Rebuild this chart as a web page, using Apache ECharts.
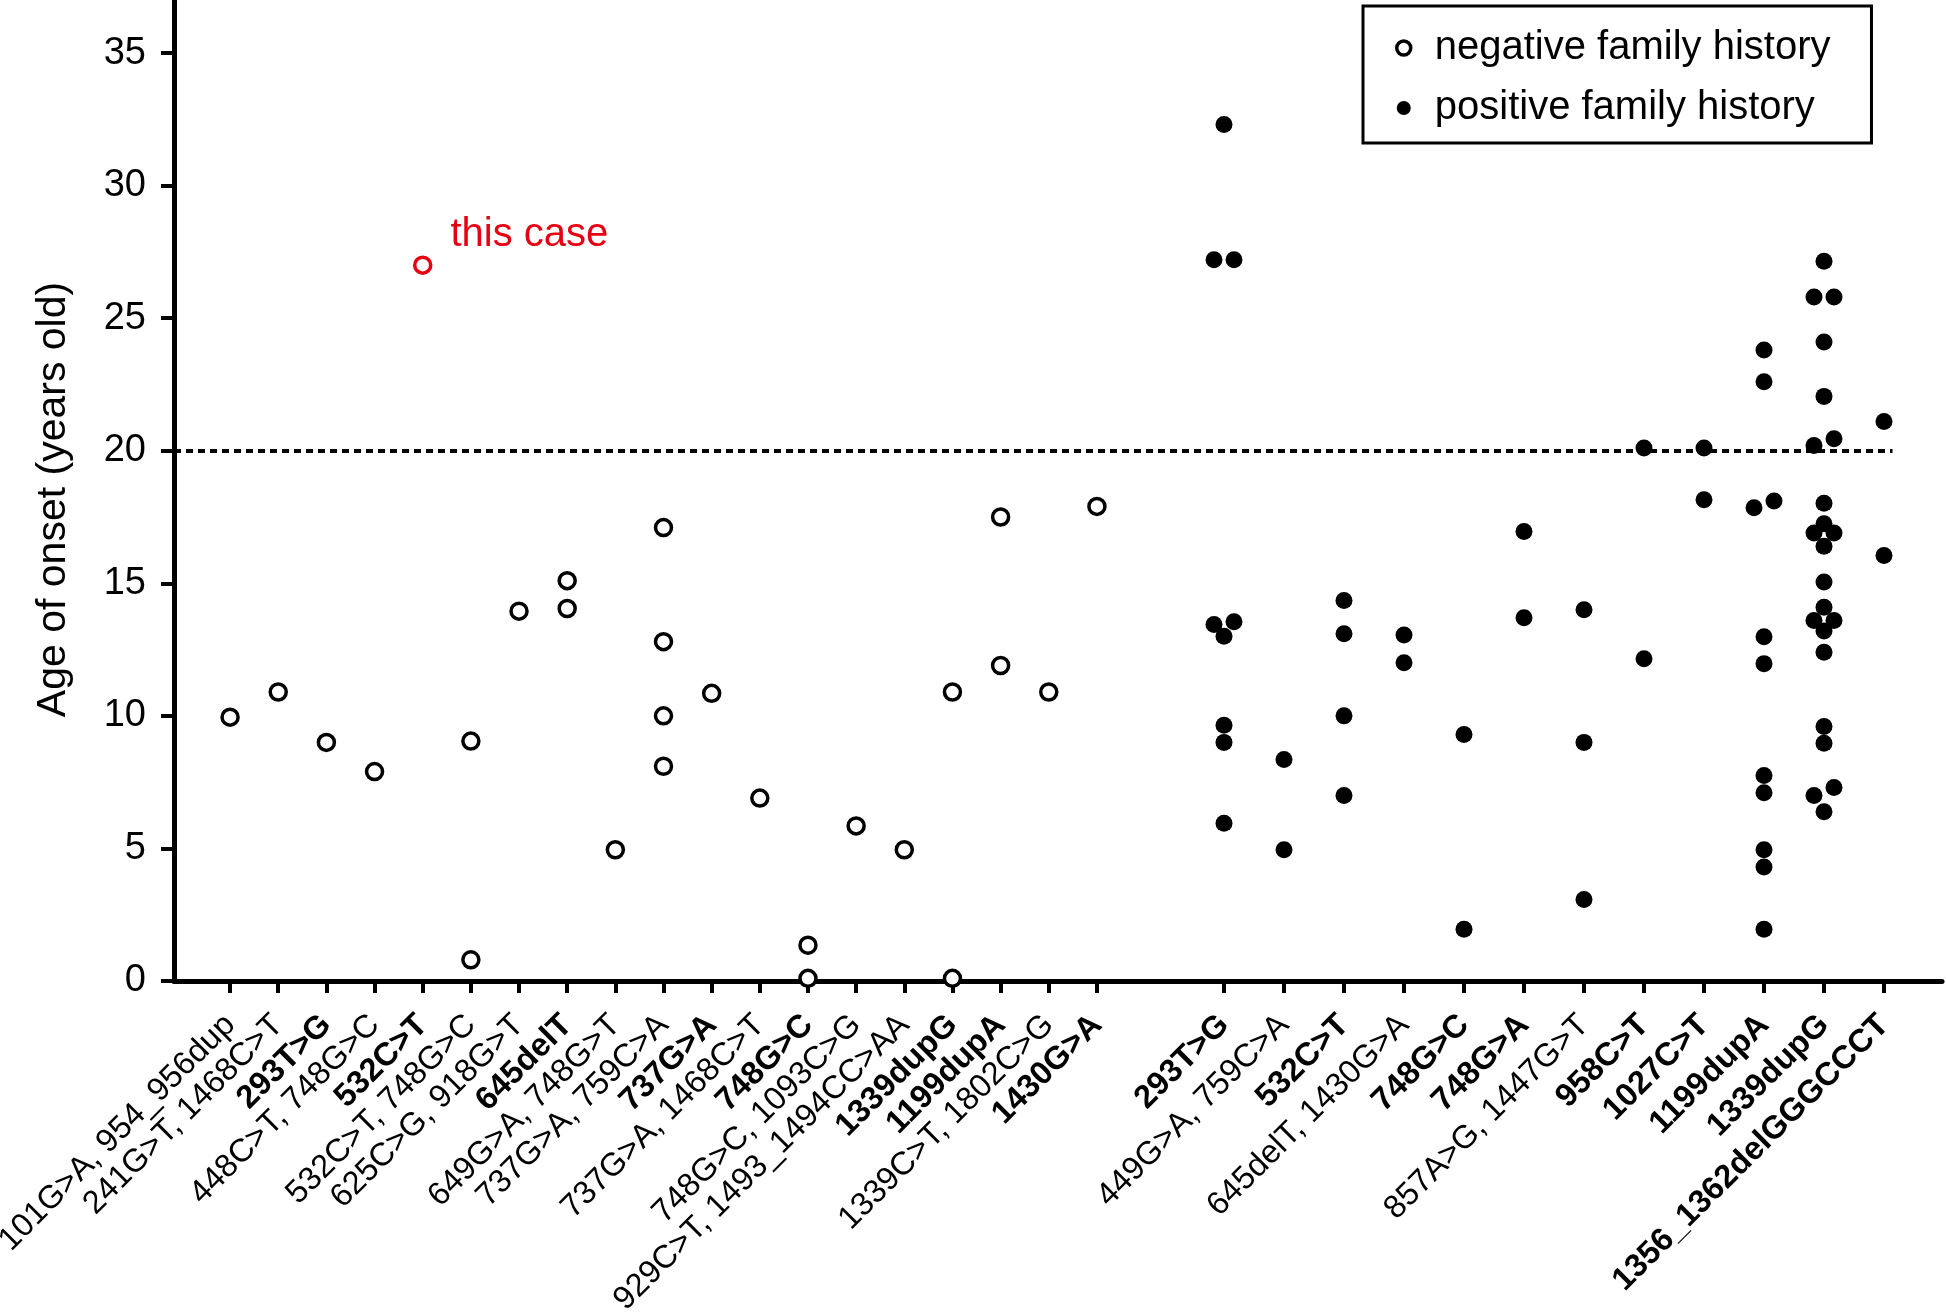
<!DOCTYPE html>
<html><head><meta charset="utf-8">
<script src="https://cdn.jsdelivr.net/npm/echarts@6/dist/echarts.min.js"></script>
<style>html,body{margin:0;padding:0;background:#fff}#c{width:1946px;height:1313px}</style>
</head><body><div id="c"></div>
<script>
// ---------------- data ----------------
const negCategories = [
  '101G>A, 954_956dup', '241G>T, 1468C>T', '293T>G', '448C>T, 748G>C', '532C>T',
  '532C>T, 748G>C', '625C>G, 918G>T', '645delT', '649G>A, 748G>T', '737G>A, 759C>A',
  '737G>A', '737G>A, 1468C>T', '748G>C', '748G>C, 1093C>G', '929C>T, 1493_1494CC>AA',
  '1339dupG', '1199dupA', '1339C>T, 1802C>G', '1430G>A'
];
const negAges = [
  [9.95], [10.9], [9.0], [7.9], [27],
  [9.05, 0.8], [13.95], [15.1, 14.05], [4.95], [17.1, 12.8, 10.0, 8.1],
  [10.85], [6.9], [1.35, 0.1], [5.85], [4.95],
  [10.9, 0.1], [17.5, 11.9], [10.9], [17.9]
];
const thisCaseCategory = '532C>T';
const thisCaseAge = 27;
const thisCaseText = 'this case';

const posCategories = [
  '293T>G', '449G>A, 759C>A', '532C>T', '645delT, 1430G>A', '748G>C', '748G>A',
  '857A>G, 1447G>T', '958C>T', '1027C>T', '1199dupA', '1339dupG', '1356_1362delGGGCCCT'
];
const posAges = [
  [32.3, 27.2, 27.2, 13.45, 13.55, 13.0, 9.65, 9.0, 5.95],
  [8.35, 4.95],
  [14.35, 13.1, 10.0, 7.0],
  [13.05, 12.0],
  [9.3, 1.95],
  [16.95, 13.7],
  [14.0, 9.0, 3.07],
  [20.1, 12.15],
  [20.1, 18.15],
  [23.8, 22.6, 18.1, 17.85, 12.98, 11.97, 7.75, 7.1, 4.95, 4.3, 1.95],
  [27.15, 25.8, 25.8, 24.1, 22.05, 20.45, 20.2, 18.02, 17.25, 16.9, 16.9, 16.4,
   15.05, 14.1, 13.6, 13.6, 13.2, 12.4, 9.6, 8.97, 7.3, 7.0, 6.38],
  [21.1, 16.05]
];
const yTicks = [0, 5, 10, 15, 20, 25, 30, 35];
const cutoffAge = 20;
const legendNames = ['negative family history', 'positive family history'];
const yTitle = 'Age of onset (years old)';

// ---------------- layout ----------------
const FONT = 'Liberation Sans, Arial, Helvetica, sans-serif';
const W = 1946, H = 1313;
const AXIS_Y = 981;
const FRAME = { left: 174, right: 4, top: 0, bottom: H - AXIS_Y, outerBoundsMode: 'none', containLabel: false };
const LEFT = { left: 206, width: 915, top: 0, bottom: H - AXIS_Y, outerBoundsMode: 'none', containLabel: false };
const RIGHT = { left: 1194, width: 720, top: 0, bottom: H - AXIS_Y, outerBoundsMode: 'none', containLabel: false };
const Y_MAX = 37;

// deterministic dot-plot spreading: near-equal values share a row
function spread(groups, bandPx, gap, stepPx) {
  const out = [];
  groups.forEach((vals, ci) => {
    const sorted = vals.slice().sort((a, b) => a - b);
    let row = [];
    const flush = () => {
      const n = row.length;
      row.forEach((v, k) => out.push({ cat: ci, x: ci + (k - (n - 1) / 2) * stepPx / bandPx, v }));
      row = [];
    };
    sorted.forEach(v => {
      if (row.length && v - row[row.length - 1] >= gap) flush();
      row.push(v);
    });
    flush();
  });
  return out;
}

const negPts = spread(negAges, LEFT.width / negCategories.length, 0.33, 20);
const posPts = spread(posAges, RIGHT.width / posCategories.length, 0.33, 20);
const thisIdx = negCategories.indexOf(thisCaseCategory);
const RED = '#e60012';

const negData = negPts.map(p => {
  if (p.cat === thisIdx && p.v === thisCaseAge) {
    return {
      value: [p.x, p.v],
      itemStyle: { color: '#fff', borderColor: RED, borderWidth: 3.5 },
      label: {
        show: true, position: 'right', offset: [13, -30], formatter: thisCaseText,
        color: RED, fontSize: 40, fontFamily: FONT
      }
    };
  }
  return [p.x, p.v];
});
const posData = posPts.map(p => [p.x, p.v]);

function catAxis(gridIndex, data) {
  return {
    type: 'category', gridIndex, data, position: 'bottom', boundaryGap: true,
    axisLine: { show: false },
    axisTick: { show: true, alignWithLabel: true, interval: 0, length: 12, lineStyle: { color: '#000', width: 4 } },
    axisLabel: {
      interval: 0, rotate: 45, margin: 39, color: '#000', hideOverlap: false,
      formatter: v => (v.indexOf(',') >= 0 ? '{n|' + v + '}' : '{b|' + v + '}'),
      rich: {
        n: { fontSize: 32.5, fontFamily: FONT, color: '#000' },
        b: { fontSize: 32.5, fontFamily: FONT, fontWeight: 'bold', color: '#000' }
      }
    },
    splitLine: { show: false }
  };
}
function valAxis(gridIndex, n) {
  return { type: 'value', gridIndex, position: 'top', min: -0.5, max: n - 0.5, show: false };
}
function hiddenY(gridIndex) {
  return { type: 'value', gridIndex, min: 0, max: Y_MAX, show: false };
}

const chart = echarts.init(document.getElementById('c'), null, { renderer: 'canvas' });
chart.setOption({
  animation: false,
  backgroundColor: '#fff',
  textStyle: { fontFamily: FONT },
  grid: [
    Object.assign({}, FRAME),
    Object.assign({}, LEFT),
    Object.assign({}, RIGHT)
  ],
  legend: {
    data: [
      { name: legendNames[0], icon: 'circle', itemStyle: { color: '#fff', borderColor: '#000', borderWidth: 3.5 } },
      { name: legendNames[1], icon: 'circle', itemStyle: { color: '#000' } }
    ],
    orient: 'vertical', left: 1363, top: 6,
    padding: [22, 41, 15, 32], itemGap: 20, itemWidth: 14, itemHeight: 14,
    borderColor: '#000', borderWidth: 3,
    textStyle: { fontSize: 40, fontFamily: FONT, color: '#000', lineHeight: 40, padding: [0, 0, 0, 19] },
    selectedMode: false
  },
  xAxis: [
    { type: 'value', gridIndex: 0, min: 0, max: 1,
      axisLine: { show: true, lineStyle: { color: '#000', width: 5 } },
      axisTick: { show: false }, axisLabel: { show: false }, splitLine: { show: false } },
    catAxis(1, negCategories),
    valAxis(1, negCategories.length),
    catAxis(2, posCategories),
    valAxis(2, posCategories.length)
  ],
  yAxis: [
    { type: 'value', gridIndex: 0, min: 0, max: Y_MAX, interval: 5,
      axisLine: { show: true, lineStyle: { color: '#000', width: 5 } },
      axisTick: { show: true, length: 13, lineStyle: { color: '#000', width: 4 }, customValues: yTicks },
      axisLabel: { fontSize: 38, fontFamily: FONT, color: '#000', margin: 28, customValues: yTicks,
        formatter: v => (yTicks.indexOf(v) >= 0 ? String(v) : '') },
      splitLine: { show: false },
      name: yTitle, nameLocation: 'middle', nameGap: 100,
      nameTextStyle: { fontSize: 41, fontFamily: FONT, color: '#000', padding: [0, 18, 0, 0] }
    },
    hiddenY(1),
    hiddenY(2)
  ],
  series: [
    {
      name: 'cutoff', type: 'scatter', xAxisIndex: 0, yAxisIndex: 0, data: [], silent: true,
      markLine: {
        silent: true, symbol: ['none', 'none'], label: { show: false },
        lineStyle: { color: '#000', width: 4, type: [7, 5] },
        data: [[{ coord: [0, cutoffAge] }, { coord: [0.972, cutoffAge] }]]
      }
    },
    {
      name: legendNames[0], type: 'scatter', xAxisIndex: 2, yAxisIndex: 1,
      symbol: 'circle', symbolSize: 16, z: 5,
      itemStyle: { color: '#fff', borderColor: '#000', borderWidth: 3.5, opacity: 1 },
      data: negData
    },
    {
      name: legendNames[1], type: 'scatter', xAxisIndex: 4, yAxisIndex: 2,
      symbol: 'circle', symbolSize: 17, z: 5,
      itemStyle: { color: '#000', opacity: 1 },
      data: posData
    }
  ]
});
</script>
</body></html>
